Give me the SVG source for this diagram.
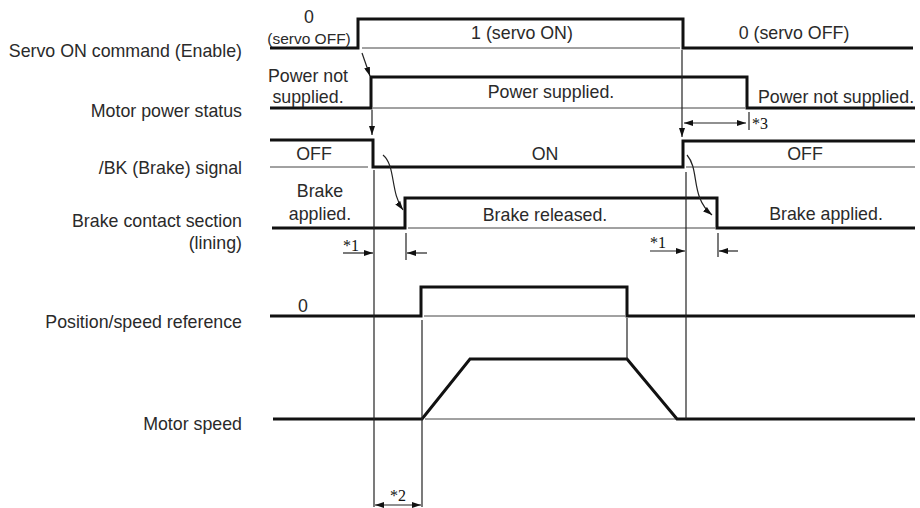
<svg xmlns="http://www.w3.org/2000/svg" width="920" height="508" viewBox="0 0 920 508">
<defs>
<marker id="ah" viewBox="0 0 9 6" refX="9" refY="3" markerWidth="9" markerHeight="6" markerUnits="userSpaceOnUse" orient="auto-start-reverse">
<path d="M0,0 L9,3 L0,6 z" fill="#111"/>
</marker>
<style>
.lbl{font-family:"Liberation Sans",Arial,sans-serif;font-size:17.8px;fill:#2a2a2a;text-anchor:end}
.t{font-family:"Liberation Sans",Arial,sans-serif;font-size:17.8px;fill:#2a2a2a;text-anchor:middle}
.ts{font-family:"Liberation Sans",Arial,sans-serif;font-size:15.5px;fill:#2a2a2a;text-anchor:middle}
.n{font-family:"Liberation Serif","Times New Roman",serif;font-size:16px;fill:#111}
.sig{fill:none;stroke:#111;stroke-width:3;stroke-linejoin:miter}
.base{fill:none;stroke:#444;stroke-width:1}
.guide{fill:none;stroke:#222;stroke-width:1.2}
.arr{fill:none;stroke:#222;stroke-width:1.2}
</style>
</defs>
<rect width="920" height="508" fill="#fff"/>

<g id="labels">
<text class="lbl" x="242" y="57">Servo ON command (Enable)</text>
<text class="lbl" x="242" y="117">Motor power status</text>
<text class="lbl" x="242" y="174">/BK (Brake) signal</text>
<text class="lbl" x="242" y="227">Brake contact section</text>
<text class="lbl" x="242" y="249">(lining)</text>
<text class="lbl" x="242" y="328">Position/speed reference</text>
<text class="lbl" x="242" y="430">Motor speed</text>
</g>

<g id="servo-on">
<path class="base" d="M362,48 H680"/>
<path class="sig" d="M270,48 H358 V19 H683 V48 H913"/>
<text class="t" x="309" y="23">0</text>
<text class="ts" x="309" y="44">(servo OFF)</text>
<text class="t" x="522" y="39">1 (servo ON)</text>
<text class="t" x="794" y="39">0 (servo OFF)</text>
</g>

<g id="motor-power">
<path class="base" d="M373,108 H745"/>
<path class="sig" d="M270,108 H371 V77 H747 V108 H915"/>
<text class="t" x="308" y="82">Power not</text>
<text class="t" x="308" y="103">supplied.</text>
<text class="t" x="551" y="98">Power supplied.</text>
<text class="t" x="836" y="103">Power not supplied.</text>
</g>

<g id="bk-signal">
<path class="base" d="M270,167 H368 M686,167 H915"/>
<path class="sig" d="M270,140 H373 V167 H683 V141 H915"/>
<text class="t" x="314" y="160">OFF</text>
<text class="t" x="545" y="160">ON</text>
<text class="t" x="805" y="160">OFF</text>
</g>

<g id="brake-contact">
<path class="base" d="M408,228 H715"/>
<path class="sig" d="M272,228 H405 V198 H717 V228 H915"/>
<text class="t" x="320" y="197">Brake</text>
<text class="t" x="320" y="220">applied.</text>
<text class="t" x="545" y="221">Brake released.</text>
<text class="t" x="826" y="220">Brake applied.</text>
</g>

<g id="position-reference">
<path class="base" d="M424,316 H625"/>
<path class="sig" d="M270,316 H421 V287 H627 V316 H915"/>
<text class="t" x="303" y="312">0</text>
</g>

<g id="motor-speed">
<path class="base" d="M425,419 H677"/>
<path class="sig" d="M273,419 H422 L470,359 H627 L677,419 H915"/>
</g>

<g id="connectors">
<path class="arr" d="M362,53 L370,76" marker-end="url(#ah)"/>
<path class="arr" d="M372,110 V135" marker-end="url(#ah)"/>
<path class="arr" d="M682,50 V137" marker-end="url(#ah)"/>
<path class="arr" d="M383,155 C396,166 390,192 403,210" marker-end="url(#ah)"/>
<path class="arr" d="M687,155 C700,170 690,197 712,215" marker-end="url(#ah)"/>
<path class="guide" d="M374,170 V507"/>
<path class="guide" d="M686,172 V419"/>
<path class="guide" d="M422,320 V507"/>
<path class="guide" d="M627,318 V359"/>
<path class="guide" d="M749,112 V130"/>
<path class="guide" d="M406,233 V260"/>
<path class="guide" d="M718,233 V257"/>
<path class="arr" d="M684,123 H746" marker-start="url(#ah)" marker-end="url(#ah)"/>
<path class="arr" d="M343,253 H373" marker-end="url(#ah)"/>
<path class="arr" d="M427,253 H407" marker-end="url(#ah)"/>
<path class="arr" d="M650,251 H685" marker-end="url(#ah)"/>
<path class="arr" d="M738,251 H719" marker-end="url(#ah)"/>
<path class="arr" d="M375,505 H421" marker-start="url(#ah)" marker-end="url(#ah)"/>
<text class="n" x="752" y="129">*3</text>
<text class="n" x="343" y="251">*1</text>
<text class="n" x="650" y="248">*1</text>
<text class="n" x="390" y="501">*2</text>
</g>
</svg>
